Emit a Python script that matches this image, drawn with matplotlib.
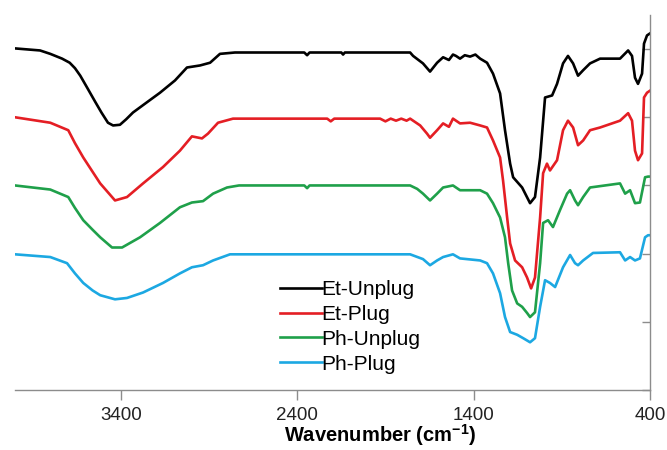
import matplotlib
matplotlib.use("Agg")
import matplotlib.pyplot as plt

plt.rcParams["font.family"] = ["Liberation Sans", "DejaVu Sans"]

# ---- 数据（从参考图读取，纵轴为偏移后的透过率，单位 = 一个刻度间隔）----
labels = ["Et-Unplug", "Et-Plug", "Ph-Unplug", "Ph-Plug"]
colors = ["#000000", "#E41E24", "#1FA04A", "#1CA8E2"]

et_unplug_wn = [4000, 3858, 3800, 3733, 3690, 3660, 3630, 3590, 3546, 3510, 3473, 3444,
                3405, 3370, 3331, 3252, 3178, 3093, 3025, 2951, 2894, 2838, 2753, 2360,
                2344, 2330, 2150, 2140, 2130, 1760, 1743, 1687, 1647, 1607, 1573, 1540,
                1517, 1500, 1477, 1450, 1420, 1390, 1363, 1324, 1290, 1250, 1222, 1193,
                1176, 1125, 1080, 1052, 1023, 995, 955, 927, 893, 865, 836, 808, 779,
                740, 683, 570, 524, 502, 485, 468, 445, 434, 417, 400]
et_unplug_t = [5.01, 4.98, 4.93, 4.86, 4.80, 4.72, 4.61, 4.43, 4.23, 4.07, 3.92, 3.88,
               3.89, 3.97, 4.07, 4.22, 4.36, 4.54, 4.73, 4.76, 4.80, 4.93, 4.95, 4.95,
               4.91, 4.95, 4.95, 4.92, 4.95, 4.95, 4.90, 4.79, 4.67, 4.80, 4.88, 4.84,
               4.92, 4.90, 4.86, 4.91, 4.89, 4.92, 4.86, 4.80, 4.64, 4.35, 3.81, 3.32,
               3.12, 2.97, 2.74, 2.83, 3.41, 4.29, 4.32, 4.49, 4.79, 4.90, 4.79, 4.61,
               4.69, 4.79, 4.86, 4.86, 4.98, 4.90, 4.58, 4.49, 4.64, 5.08, 5.20, 5.23]

et_plug_wn = [4000, 3800, 3698, 3660, 3613, 3560, 3517, 3433, 3365, 3274, 3161, 3065,
              2997, 2940, 2906, 2849, 2764, 2230, 2210, 2190, 1930, 1900, 1870, 1840,
              1810, 1780, 1760, 1703, 1664, 1647, 1607, 1573, 1540, 1517, 1477, 1420,
              1363, 1324, 1290, 1250, 1233, 1210, 1193, 1165, 1125, 1097, 1074, 1052,
              1023, 1006, 984, 967, 927, 893, 865, 836, 808, 779, 740, 683, 570, 524,
              502, 485, 468, 445, 434, 417, 400]
et_plug_t = [4.00, 3.92, 3.81, 3.62, 3.41, 3.20, 3.03, 2.78, 2.83, 3.03, 3.27, 3.51,
             3.72, 3.69, 3.76, 3.92, 3.98, 3.98, 3.94, 3.98, 3.98, 3.94, 3.98, 3.95,
             3.98, 3.95, 3.98, 3.88, 3.76, 3.70, 3.81, 3.91, 3.86, 3.98, 3.91, 3.92,
             3.88, 3.85, 3.66, 3.41, 3.07, 2.53, 2.15, 1.90, 1.80, 1.65, 1.49, 1.65,
             2.53, 3.18, 3.32, 3.22, 3.37, 3.81, 3.95, 3.85, 3.59, 3.66, 3.81, 3.85,
             3.95, 4.06, 3.95, 3.51, 3.37, 3.47, 4.29, 4.36, 4.39]

ph_unplug_wn = [4000, 3800, 3698, 3660, 3613, 3560, 3517, 3450, 3393, 3291, 3178, 3065,
                2997, 2934, 2877, 2798, 2730, 2360, 2344, 2330, 1760, 1720, 1687, 1647,
                1607, 1573, 1517, 1477, 1363, 1324, 1290, 1250, 1222, 1204, 1182, 1153,
                1125, 1097, 1080, 1052, 1023, 1006, 978, 950, 910, 870, 853, 825, 808,
                779, 740, 570, 541, 513, 485, 457, 428, 411, 400]
ph_unplug_t = [3.00, 2.94, 2.83, 2.67, 2.49, 2.35, 2.24, 2.09, 2.09, 2.24, 2.45, 2.68,
               2.75, 2.77, 2.88, 2.97, 3.00, 3.00, 2.96, 3.00, 3.00, 2.95, 2.88, 2.78,
               2.88, 2.97, 3.00, 2.93, 2.93, 2.88, 2.74, 2.53, 2.24, 1.86, 1.46, 1.27,
               1.22, 1.13, 1.07, 1.14, 1.86, 2.45, 2.49, 2.39, 2.64, 2.88, 2.93, 2.78,
               2.71, 2.83, 2.97, 3.03, 2.88, 2.93, 2.74, 2.75, 3.12, 3.13, 3.13]

ph_plug_wn = [4000, 3800, 3705, 3660, 3613, 3560, 3517, 3433, 3365, 3274, 3161, 3065,
              2997, 2934, 2877, 2781, 1760, 1687, 1647, 1607, 1573, 1517, 1477, 1363,
              1324, 1290, 1250, 1222, 1193, 1153, 1119, 1080, 1052, 1023, 995, 967, 938,
              893, 853, 825, 808, 779, 723, 570, 541, 513, 485, 457, 428, 411, 400]
ph_plug_t = [1.99, 1.95, 1.86, 1.71, 1.57, 1.46, 1.39, 1.33, 1.35, 1.43, 1.57, 1.71,
             1.80, 1.83, 1.90, 1.99, 1.99, 1.92, 1.83, 1.90, 1.95, 1.99, 1.93, 1.90,
             1.86, 1.71, 1.42, 1.07, 0.85, 0.81, 0.76, 0.70, 0.76, 1.22, 1.61, 1.57,
             1.51, 1.80, 1.98, 1.86, 1.83, 1.90, 2.01, 2.02, 1.90, 1.95, 1.90, 1.93,
             2.24, 2.27, 2.27]

series_wn = [et_unplug_wn, et_plug_wn, ph_unplug_wn, ph_plug_wn]
series_t = [et_unplug_t, et_plug_t, ph_unplug_t, ph_plug_t]

x_ticks = [3400, 2400, 1400, 400]
y_ticks = [0, 1, 2, 3, 4, 5]

fig = plt.figure(figsize=(6.67, 4.5), dpi=100)
ax = fig.add_axes([15 / 667, 60 / 450, 635 / 667, 375 / 450])

for wn, t, c, lab in zip(series_wn, series_t, colors, labels):
    ax.plot(wn, t, color=c, linewidth=1.9, label=lab, solid_joinstyle="round")

ax.set_xlim(4000, 400)
ax.set_ylim(0, 5.5)

spine_color = "#8c8c8c"
for side in ["left", "top"]:
    ax.spines[side].set_visible(False)
for side in ["right", "bottom"]:
    ax.spines[side].set_color(spine_color)
    ax.spines[side].set_linewidth(1.0)

ax.set_xticks(x_ticks)
ax.set_xticklabels([str(v) for v in x_ticks])
ax.tick_params(axis="x", direction="out", length=7, width=1.0, color=spine_color,
               labelsize=13.5, labelcolor="#222222", pad=5)

ax.yaxis.tick_right()
ax.set_yticks(y_ticks)
ax.set_yticklabels([])
ax.tick_params(axis="y", direction="in", length=6, width=1.0, color=spine_color)

ax.set_xlabel("Wavenumber (cm$^{\\mathregular{-1}}$)", fontsize=14.5, fontweight="bold")
ax.xaxis.set_label_coords((380 - 15) / 635, -0.086)

ax.legend(loc="upper left", bbox_to_anchor=((280 - 15) / 635, (390 - 280) / 375),
          frameon=False, fontsize=15, handlelength=2.0, handletextpad=0.0,
          labelspacing=0.28, borderpad=0, borderaxespad=0)

fig.savefig("out.png", dpi=100, facecolor="white")
plt.close(fig)
